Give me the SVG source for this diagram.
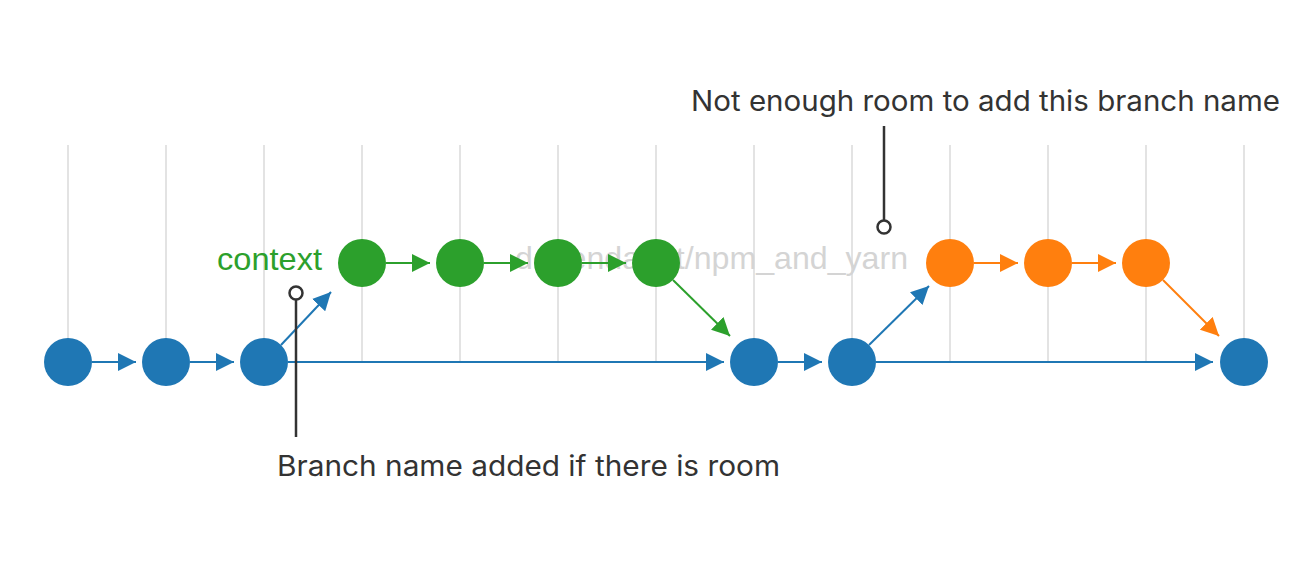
<svg xmlns="http://www.w3.org/2000/svg" width="1310" height="568" viewBox="0 0 1310 568">
<style>
.grid line{stroke:#e3e3e3;stroke-width:2}
.c line{stroke-width:2;fill:none}
.blue{stroke:#1f77b4}
.green{stroke:#2ca02c}
.orange{stroke:#ff7f0e}
.nb{fill:#1f77b4}
.ng{fill:#2ca02c}
.no{fill:#ff7f0e}
.lbl{font-family:"Liberation Sans",Arial,sans-serif;font-size:32px}
.ann{font-family:Inter,"Liberation Sans",sans-serif;font-size:28px;fill:#333}
.pin{stroke:#333;stroke-width:2.5;fill:#fff}
</style>
<defs>
<marker id="ab" viewBox="0 0 18 18" refX="18" refY="9" markerWidth="18" markerHeight="18" markerUnits="userSpaceOnUse" orient="auto"><path d="M0,0L18,9L0,18Z" fill="#1f77b4"/></marker>
<marker id="ag" viewBox="0 0 18 18" refX="18" refY="9" markerWidth="18" markerHeight="18" markerUnits="userSpaceOnUse" orient="auto"><path d="M0,0L18,9L0,18Z" fill="#2ca02c"/></marker>
<marker id="ao" viewBox="0 0 18 18" refX="18" refY="9" markerWidth="18" markerHeight="18" markerUnits="userSpaceOnUse" orient="auto"><path d="M0,0L18,9L0,18Z" fill="#ff7f0e"/></marker>
</defs>
<rect width="1310" height="568" fill="#fff"/>
<g class="grid">
<line x1="68" y1="145" x2="68" y2="362"/>
<line x1="166" y1="145" x2="166" y2="362"/>
<line x1="264" y1="145" x2="264" y2="362"/>
<line x1="362" y1="145" x2="362" y2="362"/>
<line x1="460" y1="145" x2="460" y2="362"/>
<line x1="558" y1="145" x2="558" y2="362"/>
<line x1="656" y1="145" x2="656" y2="362"/>
<line x1="754" y1="145" x2="754" y2="362"/>
<line x1="852" y1="145" x2="852" y2="362"/>
<line x1="950" y1="145" x2="950" y2="362"/>
<line x1="1048" y1="145" x2="1048" y2="362"/>
<line x1="1146" y1="145" x2="1146" y2="362"/>
<line x1="1244" y1="145" x2="1244" y2="362"/>
</g>
<text class="lbl" x="515" y="269" fill="#d4d4d4" textLength="393" lengthAdjust="spacingAndGlyphs">dependabot/npm_and_yarn</text>
<text class="lbl" x="217" y="270" fill="#2ca02c" textLength="105" lengthAdjust="spacingAndGlyphs">context</text>
<g id="connectors" class="c">
<line class="blue" x1="92" y1="362" x2="136" y2="362" marker-end="url(#ab)"/>
<line class="blue" x1="190" y1="362" x2="234" y2="362" marker-end="url(#ab)"/>
<line class="blue" x1="288" y1="362" x2="724" y2="362" marker-end="url(#ab)"/>
<line class="blue" x1="281" y1="345" x2="331" y2="292" marker-end="url(#ab)"/>
<line class="blue" x1="778" y1="362" x2="822" y2="362" marker-end="url(#ab)"/>
<line class="blue" x1="876" y1="362" x2="1213" y2="362" marker-end="url(#ab)"/>
<line class="blue" x1="869" y1="345" x2="929" y2="286" marker-end="url(#ab)"/>
<line class="green" x1="386" y1="263" x2="430" y2="263" marker-end="url(#ag)"/>
<line class="green" x1="484" y1="263" x2="528" y2="263" marker-end="url(#ag)"/>
<line class="green" x1="582" y1="263" x2="626" y2="263" marker-end="url(#ag)"/>
<line class="green" x1="673" y1="280" x2="730" y2="336" marker-end="url(#ag)"/>
<line class="orange" x1="974" y1="263" x2="1018" y2="263" marker-end="url(#ao)"/>
<line class="orange" x1="1072" y1="263" x2="1116" y2="263" marker-end="url(#ao)"/>
<line class="orange" x1="1163" y1="280" x2="1219" y2="336" marker-end="url(#ao)"/>
</g>
<g id="n1"><circle class="nb" cx="68" cy="362" r="24"/></g>
<g id="n2"><circle class="nb" cx="166" cy="362" r="24"/></g>
<g id="n3"><circle class="nb" cx="264" cy="362" r="24"/></g>
<g id="n4"><circle class="nb" cx="754" cy="362" r="24"/></g>
<g id="n5"><circle class="nb" cx="852" cy="362" r="24"/></g>
<g id="n6"><circle class="nb" cx="1244" cy="362" r="24"/></g>
<g id="g1"><circle class="ng" cx="362" cy="263" r="24"/></g>
<g id="g2"><circle class="ng" cx="460" cy="263" r="24"/></g>
<g id="g3"><circle class="ng" cx="558" cy="263" r="24"/></g>
<g id="g4"><circle class="ng" cx="656" cy="263" r="24"/></g>
<g id="o1"><circle class="no" cx="950" cy="263" r="24"/></g>
<g id="o2"><circle class="no" cx="1048" cy="263" r="24"/></g>
<g id="o3"><circle class="no" cx="1146" cy="263" r="24"/></g>
<g id="annot-bottom">
<line x1="296" y1="300" x2="296" y2="437" stroke="#333" stroke-width="2.5"/>
<circle class="pin" cx="296" cy="293" r="6.5"/>
<text class="ann" x="277" y="476" textLength="503" lengthAdjust="spacingAndGlyphs">Branch name added if there is room</text>
</g>
<g id="annot-top">
<line x1="884" y1="126" x2="884" y2="220" stroke="#333" stroke-width="2.5"/>
<circle class="pin" cx="884" cy="227" r="6.5"/>
<text class="ann" x="691" y="111" textLength="589" lengthAdjust="spacingAndGlyphs">Not enough room to add this branch name</text>
</g>
</svg>
